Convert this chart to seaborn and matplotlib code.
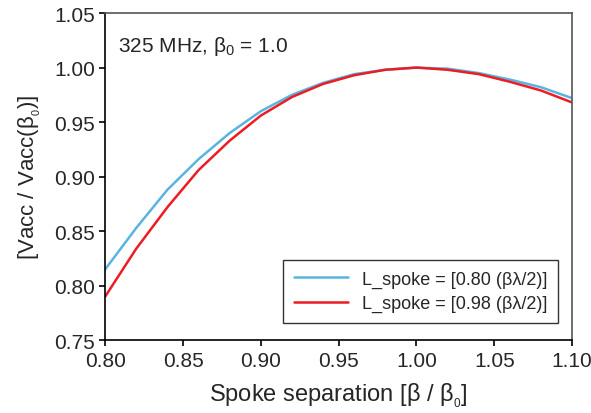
import pandas as pd
import matplotlib
matplotlib.use('Agg')
import matplotlib.pyplot as plt
import seaborn as sns

#Spoke separation (beta / beta0) and normalised accelerating voltage
beta_ratio = [0.80, 0.82, 0.84, 0.86, 0.88, 0.90, 0.92, 0.94, 0.96, 0.98,
              1.00, 1.02, 1.04, 1.06, 1.08, 1.10]
vacc_080 = [0.815, 0.853, 0.888, 0.916, 0.940, 0.960, 0.975, 0.986, 0.994, 0.998,
            1.000, 0.999, 0.995, 0.989, 0.982, 0.972]
vacc_098 = [0.790, 0.834, 0.872, 0.906, 0.933, 0.956, 0.973, 0.985, 0.993, 0.998,
            1.000, 0.998, 0.994, 0.987, 0.979, 0.968]
series_names = ['L_spoke = [0.80 (\u03b2\u03bb/2)]', 'L_spoke = [0.98 (\u03b2\u03bb/2)]']
x_ticks = [0.80, 0.85, 0.90, 0.95, 1.00, 1.05, 1.10]
y_ticks = [0.75, 0.80, 0.85, 0.90, 0.95, 1.00, 1.05]

#Long-format table for seaborn
df = pd.concat([
    pd.DataFrame({'beta': beta_ratio, 'vacc': vacc_080, 'series': series_names[0]}),
    pd.DataFrame({'beta': beta_ratio, 'vacc': vacc_098, 'series': series_names[1]}),
])

sns.set_style('ticks')
plt.rcParams['font.family'] = ['Liberation Sans', 'DejaVu Sans']
plt.rcParams['mathtext.fontset'] = 'custom'
plt.rcParams['mathtext.rm'] = 'Liberation Sans'
plt.rcParams['mathtext.it'] = 'Liberation Sans'

fig, ax = plt.subplots(figsize=(5.91, 4.14), dpi=100)
fig.subplots_adjust(left=0.178, right=0.968, top=0.966, bottom=0.176)

sns.lineplot(data=df, x='beta', y='vacc', hue='series',
             palette=['#5ab4e0', '#ec1c24'], linewidth=1.8, ax=ax)

ax.set_xlim(0.80, 1.10)
ax.set_ylim(0.75, 1.05)
ax.set_xticks(x_ticks)
ax.set_yticks(y_ticks)
ax.set_xticklabels([f'{t:.2f}' for t in x_ticks], fontsize=15)
ax.set_yticklabels([f'{t:.2f}' for t in y_ticks], fontsize=15)
ax.tick_params(axis='both', which='major', length=0, pad=7.5)

#Outward tick marks on bottom and left, drawn at the tick values
ax.vlines(x_ticks, -0.018, 0, transform=ax.get_xaxis_transform(),
          colors='black', linewidth=1.2, clip_on=False)
ax.hlines(y_ticks, -0.013, 0, transform=ax.get_yaxis_transform(),
          colors='black', linewidth=1.2, clip_on=False)

for side in ['left', 'bottom']:
    ax.spines[side].set_color('black')
    ax.spines[side].set_linewidth(1.2)
for side in ['top', 'right']:
    ax.spines[side].set_color('#555555')
    ax.spines[side].set_linewidth(1.2)

ax.set_xlabel(r'Spoke separation [$\beta$ / $\beta_{_0}$]', fontsize=17, labelpad=8)
ax.set_ylabel(r'[Vacc / Vacc($\beta_{_0}$)]', fontsize=16, labelpad=8)

ax.text(0.028, 0.90, r'325 MHz, $\beta_0$ = 1.0', transform=ax.transAxes,
        fontsize=15, va='center')

leg = ax.legend(loc='lower right', bbox_to_anchor=(0.99, 0.025), fontsize=13,
                frameon=True, fancybox=False, handlelength=3.0, borderpad=0.6,
                labelspacing=0.4)
leg.get_frame().set_edgecolor('black')
leg.get_frame().set_linewidth(1.0)

fig.savefig('out.png', dpi=100)
